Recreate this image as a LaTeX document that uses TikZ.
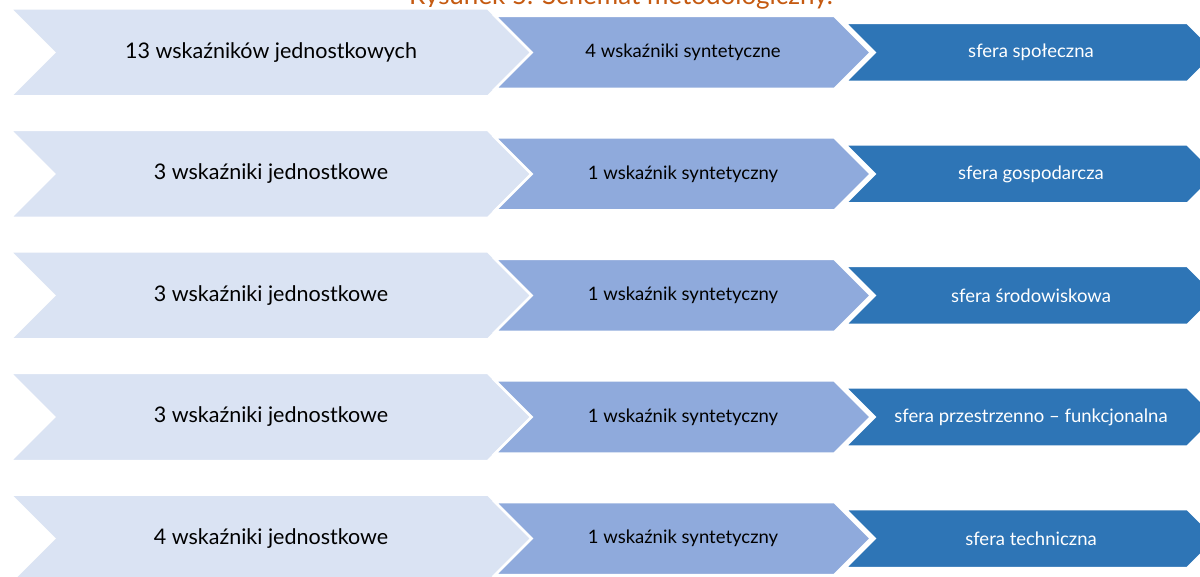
\documentclass[tikz,border=0pt]{standalone}
\usepackage{fontspec}
\setmainfont{Lato}
\usepackage{xcolor}
\usetikzlibrary{shapes.symbols}
\definecolor{chevlight}{HTML}{DAE3F3}
\definecolor{chevmid}{HTML}{8FAADC}
\definecolor{chevdark}{HTML}{2E75B6}
\definecolor{titleorange}{HTML}{C55A11}

\begin{document}
\begin{tikzpicture}[x=1pt,y=-1pt,
	chev/.style={signal,signal from=west,signal to=east,draw=white,line width=2.5pt,inner sep=0pt},
	lightchev/.style={chev,fill=chevlight,minimum width=522pt,minimum height=88pt,font=\fontsize{21.5}{25}\selectfont},
	midchev/.style={chev,fill=chevmid,minimum width=376pt,minimum height=73pt,font=\fontsize{18.5}{22}\selectfont},
	darkchev/.style={chev,fill=chevdark,text=white,minimum width=372pt,minimum height=59pt,font=\fontsize{18.5}{22}\selectfont}]
	\useasboundingbox (0,0) rectangle (1200,577);
	\clip (0,0) rectangle (1200,577);
	\node[anchor=base,text=titleorange,font=\fontsize{26}{30}\selectfont] (title) at (621,5) {Rysunek 5. Schemat metodologiczny.};
	\node[lightchev] (jedn1) at (271,52.5) {13 wskaźników jednostkowych};
	\node[lightchev] (jedn2) at (271,174) {3 wskaźniki jednostkowe};
	\node[lightchev] (jedn3) at (271,295.5) {3 wskaźniki jednostkowe};
	\node[lightchev] (jedn4) at (271,417) {3 wskaźniki jednostkowe};
	\node[lightchev] (jedn5) at (271,538.5) {4 wskaźniki jednostkowe};
	\node[midchev] (synt1) at (683,52.5) {4 wskaźniki syntetyczne};
	\node[midchev] (synt2) at (683,174) {1 wskaźnik syntetyczny};
	\node[midchev] (synt3) at (683,295.5) {1 wskaźnik syntetyczny};
	\node[midchev] (synt4) at (683,417) {1 wskaźnik syntetyczny};
	\node[midchev] (synt5) at (683,538.5) {1 wskaźnik syntetyczny};
	\node[darkchev] (sfera1) at (1031,52.5) {sfera społeczna};
	\node[darkchev] (sfera2) at (1031,174) {sfera gospodarcza};
	\node[darkchev] (sfera3) at (1031,295.5) {sfera środowiskowa};
	\node[darkchev] (sfera4) at (1031,417) {sfera przestrzenno – funkcjonalna};
	\node[darkchev] (sfera5) at (1031,538.5) {sfera techniczna};
\end{tikzpicture}
\end{document}
